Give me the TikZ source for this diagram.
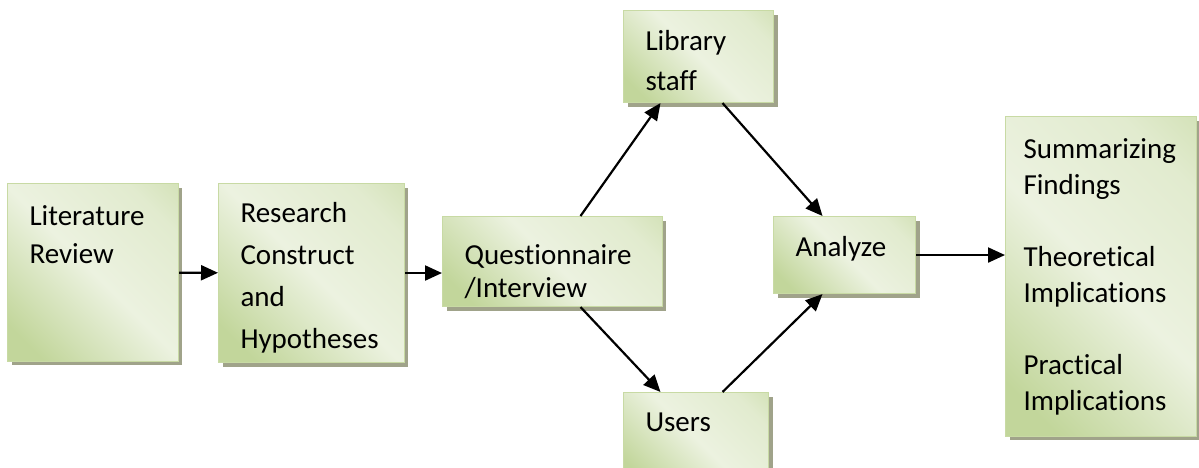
\documentclass[tikz,border=0pt]{standalone}
\usepackage{fontspec}
\setmainfont[Ligatures=NoCommon]{Carlito}
\usetikzlibrary{arrows.meta,shadows}
\definecolor{stagedark}{RGB}{194,214,155}
\definecolor{stagelight}{RGB}{236,242,224}
\definecolor{stageline}{RGB}{200,218,164}
\definecolor{stageshadow}{RGB}{160,163,138}
\pgfdeclarehorizontalshading{stagefill}{100bp}{color(0bp)=(stagedark); color(22bp)=(stagedark); color(50bp)=(stagelight); color(75bp)=(stagelight!75!stagedark); color(100bp)=(stagedark)}

\begin{document}
\begin{tikzpicture}[x=0.02cm, y=-0.02cm,
	stage/.style={rectangle, anchor=north west, align=left, inner xsep=0.44cm, inner ysep=0.2cm, draw=stageline, line width=0.6pt, shading=stagefill, shading angle=45, drop shadow={shadow xshift=0.08cm, shadow yshift=-0.08cm, fill=stageshadow, opacity=1}, font=\fontsize{16.5}{22}\selectfont},
	flow/.style={-{Triangle[length=0.34cm, width=0.3cm]}, line width=1.25pt}]
				\useasboundingbox (0,0) rectangle (1199,467);
				\node[stage, text width=2.54cm, inner ysep=0.44cm, text depth=2.28cm, font=\fontsize{16.5}{21.6}\selectfont] (lit) at (7,183) {Literature\\Review};
				\node[stage, text width=2.84cm, minimum height=3.58cm, inner ysep=0.05cm, text height=0.58cm, font=\fontsize{16.5}{23.9}\selectfont] (res) at (218,183) {Research\\Construct\\and\\Hypotheses};
				\node[stage, text width=3.52cm, minimum height=1.8cm, inner ysep=0pt, text height=0.82cm, font=\fontsize{16.5}{18.8}\selectfont] (quest) at (442,216) {Questionnaire\\/Interview};
				\node[stage, text width=2.12cm, minimum height=1.84cm, inner ysep=0.05cm, text height=0.58cm, font=\fontsize{16.5}{22.8}\selectfont] (staff) at (623,10) {Library\\staff};
				\node[stage, text width=2.02cm, minimum height=1.84cm, inner ysep=0.4cm, text depth=0.64cm] (users) at (623,392) {Users};
				\node[stage, text width=1.96cm, minimum height=1.54cm, text depth=0.34cm] (ana) at (773,216) {Analyze};
				\node[stage, text width=3.1cm, inner xsep=0.36cm, minimum height=6.4cm, font=\fontsize{16.5}{20.5}\selectfont] (out) at (1005,116) {Summarizing\\Findings\\[0.72cm]Theoretical\\Implications\\[0.72cm]Practical\\Implications};
				\draw[flow] (lit) -- (res);
				\draw[flow] (res.east) -- (res.east -| quest.west);
				\draw[flow] ([xshift=0.56cm]quest.north) -- ([xshift=-0.76cm]staff.south);
				\draw[flow] ([xshift=0.48cm]staff.south) -- ([xshift=-0.44cm]ana.north);
				\draw[flow] ([xshift=0.56cm]quest.south) -- ([xshift=-0.71cm]users.north);
				\draw[flow] ([xshift=0.53cm]users.north) -- ([xshift=-0.44cm]ana.south);
				\draw[flow] (ana.east) -- (ana.east -| out.west);
			\end{tikzpicture}
\end{document}
